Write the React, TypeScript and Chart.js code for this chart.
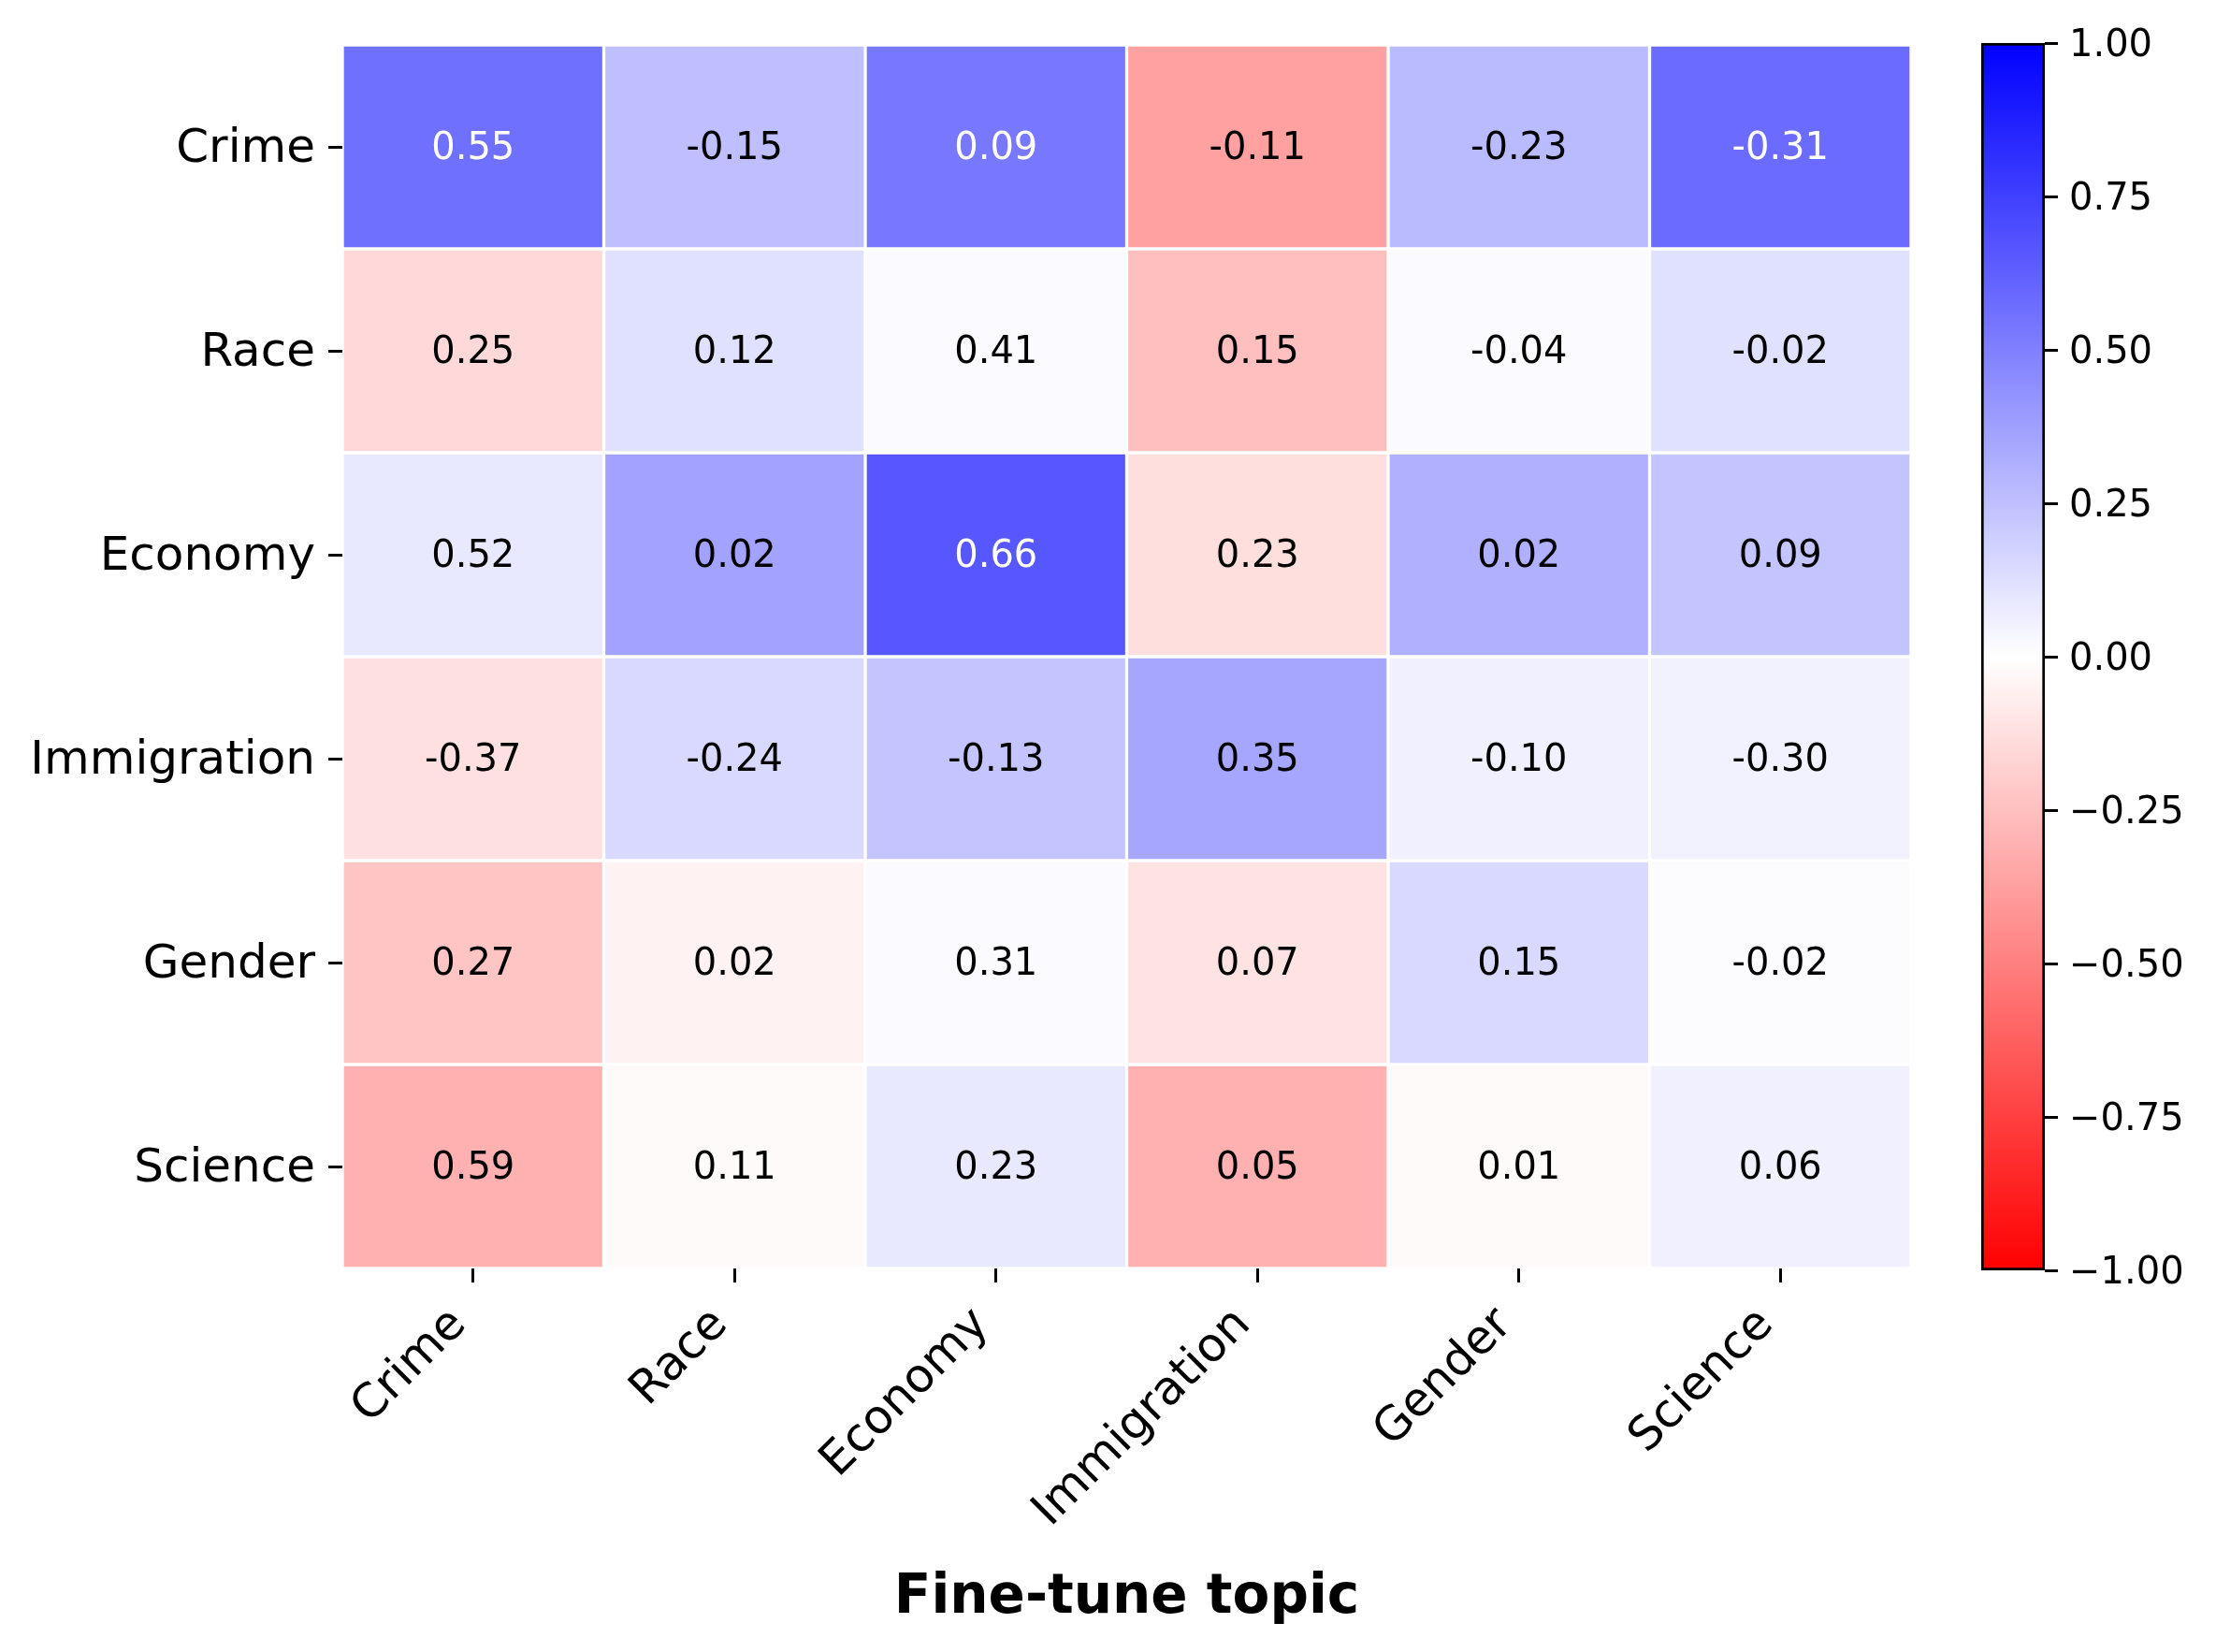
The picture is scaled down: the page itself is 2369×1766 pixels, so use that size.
import React, { useEffect, useRef } from 'react';
import { Chart, registerables } from 'chart.js';

Chart.register(...registerables);

const W = 2369;
const H = 1766;
const FONT = '"DejaVu Sans", "Liberation Sans", sans-serif';

// ---- data ----
const rowLabels = ['Crime', 'Race', 'Economy', 'Immigration', 'Gender', 'Science'];
const colLabels = ['Crime', 'Race', 'Economy', 'Immigration', 'Gender', 'Science'];

// annotated numbers (text written in each cell)
const annotCrime = [0.55, -0.15, 0.09, -0.11, -0.23, -0.31];
const annotRace = [0.25, 0.12, 0.41, 0.15, -0.04, -0.02];
const annotEconomy = [0.52, 0.02, 0.66, 0.23, 0.02, 0.09];
const annotImmigration = [-0.37, -0.24, -0.13, 0.35, -0.10, -0.30];
const annotGender = [0.27, 0.02, 0.31, 0.07, 0.15, -0.02];
const annotScience = [0.59, 0.11, 0.23, 0.05, 0.01, 0.06];

const colorCrime = [0.56, 0.25, 0.53, -0.37, 0.27, 0.58];
const colorRace = [-0.15, 0.12, 0.02, -0.25, 0.02, 0.12];
const colorEconomy = [0.09, 0.36, 0.66, -0.13, 0.31, 0.23];
const colorImmigration = [-0.12, 0.15, 0.23, 0.35, 0.06, 0.05];
const colorGender = [-0.23, -0.05, 0.02, -0.11, 0.15, 0.01];
const colorScience = [-0.31, -0.02, 0.09, -0.31, -0.02, 0.06];

const cbTicks = [1, 0.75, 0.5, 0.25, 0, -0.25, -0.5, -0.75, -1];
const cbTickLabels = ['1.00', '0.75', '0.50', '0.25', '0.00', '\u22120.25', '\u22120.50', '\u22120.75', '\u22121.00'];

const xTitle = 'Fine-tune topic';

const annotations = [annotCrime, annotRace, annotEconomy, annotImmigration, annotGender, annotScience];
const colorValues = [colorCrime, colorRace, colorEconomy, colorImmigration, colorGender, colorScience];

// ---- colour map (bwr reversed: -1 red, 0 white, +1 blue) ----
function bwrR(v: number): [number, number, number] {
  const t = Math.max(-1, Math.min(1, v));
  if (t >= 0) {
    const c = Math.round(255 * (1 - t));
    return [c, c, 255];
  }
  const c = Math.round(255 * (1 + t));
  return [255, c, c];
}
function rgbStr(c: [number, number, number]) {
  return `rgb(${c[0]},${c[1]},${c[2]})`;
}
function luminance(c: [number, number, number]) {
  const f = (x: number) => {
    x /= 255;
    return x <= 0.03928 ? x / 12.92 : Math.pow((x + 0.055) / 1.055, 2.4);
  };
  return 0.2126 * f(c[0]) + 0.7152 * f(c[1]) + 0.0722 * f(c[2]);
}
function textColor(v: number) {
  return luminance(bwrR(v)) > 0.408 ? '#000000' : '#ffffff';
}

const annotPlugin = {
  id: 'annot',
  afterDatasetsDraw(chart: any) {
    const ctx = chart.ctx;
    ctx.save();
    ctx.font = `40px ${FONT}`;
    ctx.textAlign = 'center';
    ctx.textBaseline = 'middle';
    annotations.forEach((row, r) => {
      const meta = chart.getDatasetMeta(r);
      row.forEach((v, c) => {
        const el: any = meta.data[c];
        if (!el) return;
        const cy = (el.y + el.base) / 2;
        ctx.fillStyle = textColor(colorValues[r][c]);
        ctx.fillText(v.toFixed(2), el.x, cy + 3);
      });
    });
    ctx.restore();
  },
};

export default function App() {
  const mainRef = useRef<HTMLCanvasElement | null>(null);
  const cbRef = useRef<HTMLCanvasElement | null>(null);

  useEffect(() => {
    if (!mainRef.current || !cbRef.current) return;

    const datasets = rowLabels.map((name, r) => ({
      label: name,
      data: colLabels.map(() => [r, r + 1]),
      backgroundColor: colorValues[r].map((v) => rgbStr(bwrR(v))),
      borderColor: '#ffffff',
      borderWidth: 2,
      borderSkipped: false,
      grouped: false,
      categoryPercentage: 1,
      barPercentage: 1,
    }));

    const main = new Chart(mainRef.current, {
      type: 'bar',
      data: { labels: colLabels, datasets: datasets as any },
      options: {
        animation: false,
        responsive: false,
        devicePixelRatio: 1,
        layout: { padding: { left: 0, top: 48, right: 326, bottom: 0 } },
        plugins: { legend: { display: false }, tooltip: { enabled: false } },
        scales: {
          x: {
            type: 'category',
            offset: true,
            border: { display: false },
            grid: {
              drawOnChartArea: false,
              drawTicks: true,
              offset: false,
              tickLength: 15,
              tickWidth: 3,
              tickColor: '#000000',
            },
            ticks: {
              color: '#000000',
              font: { family: FONT, size: 50 },
              minRotation: 45,
              maxRotation: 45,
              autoSkip: false,
              padding: 16,
              labelOffset: -15,
            },
            title: {
              display: true,
              text: xTitle,
              color: '#000000',
              font: { family: FONT, size: 58, weight: 'bold' },
              padding: { top: 0, bottom: 22 },
            },
            afterFit: (s: any) => {
              s.height = H - 1356;
            },
          },
          y: {
            type: 'linear',
            min: 0,
            max: rowLabels.length,
            reverse: true,
            border: { display: false },
            grid: {
              drawOnChartArea: false,
              drawTicks: true,
              tickLength: 15,
              tickWidth: 3,
              tickColor: '#000000',
            },
            ticks: {
              color: '#000000',
              font: { family: FONT, size: 50 },
              padding: 14,
              autoSkip: false,
              labelOffset: 3,
              callback: (v: any) => rowLabels[Math.floor(Number(v))] ?? '',
            },
            afterBuildTicks: (s: any) => {
              s.ticks = rowLabels.map((_, i) => ({ value: i + 0.5 }));
            },
            afterFit: (s: any) => {
              s.width = 366;
            },
          },
        },
      },
      plugins: [annotPlugin],
    } as any);

    const cb = new Chart(cbRef.current, {
      type: 'bar',
      data: {
        labels: [''],
        datasets: [
          {
            data: [[-1, 1]],
            backgroundColor: (ctx: any) => {
              const chart = ctx.chart;
              const ys = chart.scales?.y;
              if (!chart.chartArea || !ys) return 'rgba(0,0,0,0)';
              const g = chart.ctx.createLinearGradient(0, ys.getPixelForValue(-1), 0, ys.getPixelForValue(1));
              g.addColorStop(0, rgbStr(bwrR(-1)));
              g.addColorStop(0.5, rgbStr(bwrR(0)));
              g.addColorStop(1, rgbStr(bwrR(1)));
              return g;
            },
            borderColor: '#000000',
            borderWidth: 3,
            borderSkipped: false,
            categoryPercentage: 1,
            barPercentage: 1,
          },
        ] as any,
      },
      options: {
        animation: false,
        responsive: false,
        devicePixelRatio: 1,
        layout: { padding: { left: 2118, top: 46, right: 0, bottom: 408 } },
        plugins: { legend: { display: false }, tooltip: { enabled: false } },
        scales: {
          x: { type: 'category', display: false },
          y: {
            type: 'linear',
            position: 'right',
            min: -1,
            max: 1,
            border: { display: false },
            grid: {
              drawOnChartArea: false,
              drawTicks: true,
              tickLength: 14,
              tickWidth: 3,
              tickColor: '#000000',
            },
            ticks: {
              color: '#000000',
              font: { family: FONT, size: 40 },
              padding: 12,
              autoSkip: false,
              labelOffset: 4,
              callback: (v: any) => {
                const i = cbTicks.findIndex((t) => Math.abs(t - Number(v)) < 1e-9);
                return i >= 0 ? cbTickLabels[i] : '';
              },
            },
            afterBuildTicks: (s: any) => {
              s.ticks = cbTicks.map((v) => ({ value: v }));
            },
            afterFit: (s: any) => {
              s.width = W - 2186;
            },
          },
        },
      },
    } as any);

    return () => {
      main.destroy();
      cb.destroy();
    };
  }, []);

  return (
    <div style={{ position: 'absolute', left: 0, top: 0, width: W, height: H, background: '#ffffff' }}>
      <canvas
        ref={mainRef}
        width={W}
        height={H}
        style={{ position: 'absolute', left: 0, top: 0, width: W, height: H }}
      />
      <canvas
        ref={cbRef}
        width={W}
        height={H}
        style={{ position: 'absolute', left: 0, top: 0, width: W, height: H }}
      />
    </div>
  );
}
